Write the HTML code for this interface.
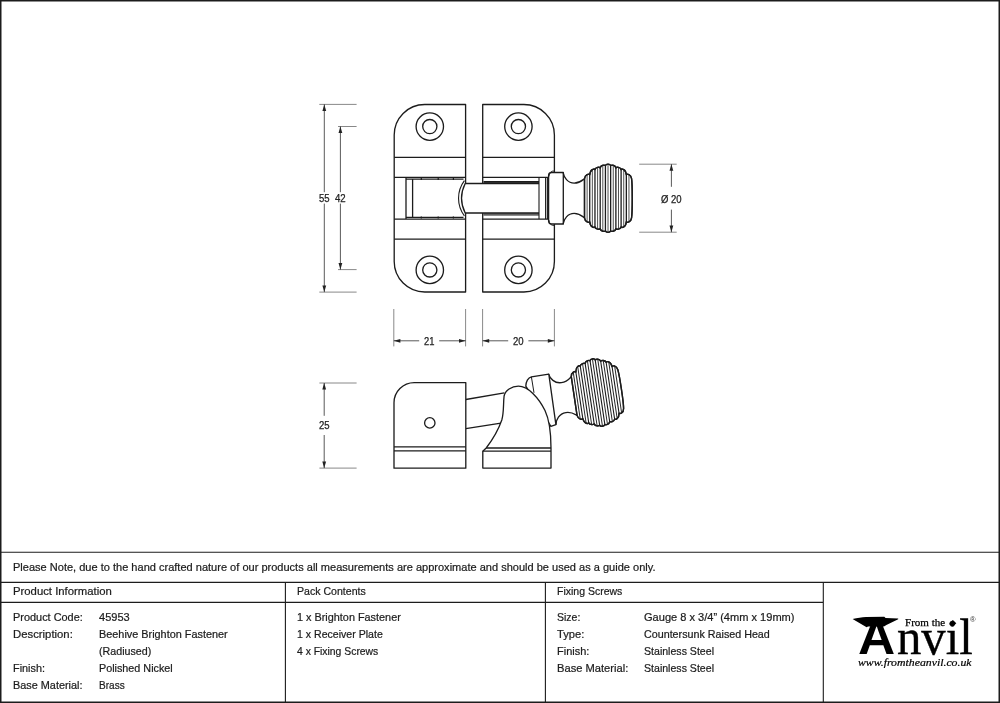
<!DOCTYPE html>
<html lang="en">
<head>
<meta charset="utf-8">
<title>Beehive Brighton Fastener (Radiused) - Polished Nickel - 45953</title>
<style>
html,body{margin:0;padding:0;background:#fff;}
body{width:1000px;height:703px;position:relative;overflow:hidden;font-family:"Liberation Sans",sans-serif;color:#1c1c1c;}
#frame{position:absolute;left:0;top:0;width:1000px;height:703px;}
.t,.d{position:absolute;white-space:nowrap;transform-origin:0 50%;color:#1c1c1c;}
.t{-webkit-text-stroke:0.22px #1c1c1c;}
.d{color:#222;-webkit-text-stroke:0.25px #222;}
#txt{position:absolute;left:0;top:0;width:1000px;height:703px;will-change:transform;}
</style>
</head>
<body>
<svg id="frame" width="1000" height="703" viewBox="0 0 1000 703">
<!-- sheet border and title block -->
<g fill="none" stroke="#1c1c1c" stroke-width="1.5">
<rect x="0.75" y="0.75" width="998.5" height="701.5"/>
</g>
<g fill="none" stroke="#1c1c1c" stroke-width="1.1">
<path d="M1 552.2H999M1 582.4H999M1 602.4H823.3M285.4 582.4V702M545.4 582.4V702M823.3 582.4V702"/>
</g>
<defs><g id="knob" stroke="#1c1c1c" stroke-width="1.32" stroke-linecap="round" stroke-linejoin="round"><path d="M584.50 178.70C585.20 173.85 589.03 173.85 589.73 174.65C590.43 168.75 594.26 168.75 594.96 169.55C595.66 166.95 599.49 166.95 600.19 167.75C600.89 164.85 604.72 164.85 605.42 165.65C606.12 163.65 609.95 163.65 610.65 165.65C611.35 164.85 615.18 164.85 615.88 167.75C616.58 166.95 620.41 166.95 621.11 169.55C621.81 168.75 625.64 168.75 626.34 174.65C627.04 173.85 630.87 173.85 631.57 178.70C632.47 184.70 632.47 211.80 631.57 217.80C630.87 222.65 627.04 222.65 626.34 221.85C625.64 227.75 621.81 227.75 621.11 226.95C620.41 229.55 616.58 229.55 615.88 228.75C615.18 231.65 611.35 231.65 610.65 230.85C609.95 232.85 606.12 232.85 605.42 230.85C604.72 231.65 600.89 231.65 600.19 228.75C599.49 229.55 595.66 229.55 594.96 226.95C594.26 227.75 590.43 227.75 589.73 221.85C589.03 222.65 585.20 222.65 584.50 217.80Z" fill="#fff"/><path d="M587.12 174.70V221.80M592.35 169.60V226.90M597.58 167.80V228.70M602.81 165.70V230.80M608.03 164.50V232.00M613.26 165.70V230.80M618.50 167.80V228.70M623.73 169.60V226.90M628.96 174.70V221.80" stroke="#4a4a4a" stroke-width="0.95"/><path d="M589.73 174.65V221.85M594.96 169.55V226.95M600.19 167.75V228.75M605.42 165.65V230.85M610.65 165.65V230.85M615.88 167.75V228.75M621.11 169.55V226.95M626.34 174.65V221.85" stroke-width="1.3"/><path d="M584.50 178.70C585.20 173.85 589.03 173.85 589.73 174.65C590.43 168.75 594.26 168.75 594.96 169.55C595.66 166.95 599.49 166.95 600.19 167.75C600.89 164.85 604.72 164.85 605.42 165.65C606.12 163.65 609.95 163.65 610.65 165.65C611.35 164.85 615.18 164.85 615.88 167.75C616.58 166.95 620.41 166.95 621.11 169.55C621.81 168.75 625.64 168.75 626.34 174.65C627.04 173.85 630.87 173.85 631.57 178.70C632.47 184.70 632.47 211.80 631.57 217.80C630.87 222.65 627.04 222.65 626.34 221.85C625.64 227.75 621.81 227.75 621.11 226.95C620.41 229.55 616.58 229.55 615.88 228.75C615.18 231.65 611.35 231.65 610.65 230.85C609.95 232.85 606.12 232.85 605.42 230.85C604.72 231.65 600.89 231.65 600.19 228.75C599.49 229.55 595.66 229.55 594.96 226.95C594.26 227.75 590.43 227.75 589.73 221.85C589.03 222.65 585.20 222.65 584.50 217.80Z" fill="none" stroke-width="1.4200000000000002"/></g><g id="knob2" stroke="#1c1c1c" stroke-width="1.32" stroke-linecap="round" stroke-linejoin="round"><path d="M584.50 178.70C585.20 173.85 589.03 173.85 589.73 174.65C590.43 168.75 594.26 168.75 594.96 169.55C595.66 166.95 599.49 166.95 600.19 167.75C600.89 164.85 604.72 164.85 605.42 165.65C606.12 163.65 609.95 163.65 610.65 165.65C611.35 164.85 615.18 164.85 615.88 167.75C616.58 166.95 620.41 166.95 621.11 169.55C621.81 168.75 625.64 168.75 626.34 174.65C627.04 173.85 630.87 173.85 631.57 178.70C632.47 184.70 632.47 211.80 631.57 217.80C630.87 222.65 627.04 222.65 626.34 221.85C625.64 227.75 621.81 227.75 621.11 226.95C620.41 229.55 616.58 229.55 615.88 228.75C615.18 231.65 611.35 231.65 610.65 230.85C609.95 232.85 606.12 232.85 605.42 230.85C604.72 231.65 600.89 231.65 600.19 228.75C599.49 229.55 595.66 229.55 594.96 226.95C594.26 227.75 590.43 227.75 589.73 221.85C589.03 222.65 585.20 222.65 584.50 217.80Z" fill="#fff"/><path d="M587.12 174.70V221.80M592.35 169.60V226.90M597.58 167.80V228.70M602.81 165.70V230.80M608.03 164.50V232.00M613.26 165.70V230.80M618.50 167.80V228.70M623.73 169.60V226.90M628.96 174.70V221.80" stroke="#2a2a2a" stroke-width="1.0"/><path d="M589.73 174.65V221.85M594.96 169.55V226.95M600.19 167.75V228.75M605.42 165.65V230.85M610.65 165.65V230.85M615.88 167.75V228.75M621.11 169.55V226.95M626.34 174.65V221.85" stroke-width="1.1"/><path d="M584.50 178.70C585.20 173.85 589.03 173.85 589.73 174.65C590.43 168.75 594.26 168.75 594.96 169.55C595.66 166.95 599.49 166.95 600.19 167.75C600.89 164.85 604.72 164.85 605.42 165.65C606.12 163.65 609.95 163.65 610.65 165.65C611.35 164.85 615.18 164.85 615.88 167.75C616.58 166.95 620.41 166.95 621.11 169.55C621.81 168.75 625.64 168.75 626.34 174.65C627.04 173.85 630.87 173.85 631.57 178.70C632.47 184.70 632.47 211.80 631.57 217.80C630.87 222.65 627.04 222.65 626.34 221.85C625.64 227.75 621.81 227.75 621.11 226.95C620.41 229.55 616.58 229.55 615.88 228.75C615.18 231.65 611.35 231.65 610.65 230.85C609.95 232.85 606.12 232.85 605.42 230.85C604.72 231.65 600.89 231.65 600.19 228.75C599.49 229.55 595.66 229.55 594.96 226.95C594.26 227.75 590.43 227.75 589.73 221.85C589.03 222.65 585.20 222.65 584.50 217.80Z" fill="none" stroke-width="1.4200000000000002"/></g></defs>
<g id="topview" fill="none" stroke="#1c1c1c" stroke-width="1.32" stroke-linejoin="round">
<path d="M465.6 104.5H424.7A30.5 30.5 0 0 0 394.2 135.0V261.5A30.5 30.5 0 0 0 424.7 292.0H465.6Z" fill="#fff"/>
<path d="M482.7 104.5H523.9A30.5 30.5 0 0 1 554.4 135.0V261.5A30.5 30.5 0 0 1 523.9 292.0H482.7Z" fill="#fff"/>
<path d="M394.2 157.4H465.6M394.2 239.10H465.6"/>
<path d="M482.7 157.4H554.4M482.7 239.10H554.4"/>
<path d="M394.2 177.4H465.6M394.2 219.10H465.6"/>
<path d="M482.7 177.4H548.6M482.7 219.10H548.6"/>
<path d="M406 179.1H463.5M406 217.40H463.5M406 177.4V219.10M412.6 179.1V217.40" stroke-width="1.3"/>
<path d="M421.3 178.0V180.0M421.3 218.50V216.50M438.2 178.0V180.0M438.2 218.50V216.50M453.4 178.0V180.0M453.4 218.50V216.50" stroke-width="1.2"/>
<path d="M464.4 180.6A29.5 29.5 0 0 0 464.4 215.90" fill="none" stroke-width="1.1"/>
<path d="M539 183.5H465.2A33 33 0 0 0 465.2 213.00H539" fill="#fff"/>
<path d="M483.5 181.5H539M483.5 215.00H539M483.5 182.6H539M483.5 213.90H539" stroke-width="1.0"/>
<path d="M539 177.4V219.10M545.6 177.4V219.10M547.4 177.4V219.10" stroke-width="1.1"/>
<path d="M551.6 172.5H563.3V224.00H551.6Q548.6 224.00 548.6 221.00V175.5Q548.6 172.5 551.6 172.5Z" fill="#fff"/>
<path d="M548.9 176.5Q549.6 170.6 554.4 171.0M548.9 220.00Q549.6 225.90 554.4 225.50" fill="none" stroke-width="0.9"/>
<circle cx="429.8" cy="126.60" r="13.7" fill="none"/><circle cx="429.8" cy="126.60" r="7.1" fill="none"/>
<circle cx="429.8" cy="269.90" r="13.7" fill="none"/><circle cx="429.8" cy="269.90" r="7.1" fill="none"/>
<circle cx="518.4" cy="126.60" r="13.7" fill="none"/><circle cx="518.4" cy="126.60" r="7.1" fill="none"/>
<circle cx="518.4" cy="269.90" r="13.7" fill="none"/><circle cx="518.4" cy="269.90" r="7.1" fill="none"/>
<use href="#knob"/>
<path d="M563.3 173.00C564.0 177.20 567.50 183.10 574.20 183.10C579.50 183.10 582.00 180.60 584.50 178.70M563.3 223.50C564.0 219.30 567.50 213.40 574.20 213.40C579.50 213.40 582.00 215.90 584.50 217.80" fill="none" stroke-linecap="round"/>
</g>
<g id="sideview" fill="none" stroke="#1c1c1c" stroke-width="1.32" stroke-linejoin="round">
<path d="M465.8 399.5L504.4 392.9M465.8 428.6L501.0 423.2" fill="none"/>
<g transform="translate(-11.00 201.05) rotate(-8.5 563.3 198.25)"><use href="#knob2" x="0.9"/><path d="M563.3 173.00C564.0 177.20 567.86 183.10 574.74 183.10C580.40 183.10 582.90 180.60 585.40 178.70M563.3 223.50C564.0 219.30 567.86 213.40 574.74 213.40C580.40 213.40 582.90 215.90 585.40 217.80" fill="none" stroke-linecap="round"/></g>
<path d="M525.8 386.2C525.9 381.8 528.0 377.4 531.4 376.8L548.8 374.1L555.9 424.6L550.9 426.4Z" fill="#fff"/>
<path d="M531.4 376.9L534.0 392.8" fill="none" stroke-width="1.0"/>
<path d="M465.8 382.6H414.2A20.2 20.2 0 0 0 394 402.8V468.2H465.8Z" fill="#fff"/>
<path d="M394 446.8H465.8M394 450.8H465.8"/>
<circle cx="429.8" cy="422.9" r="5.2" fill="none"/>
<path d="M482.8 468.1V451.2L486.2 448.0C493.5 438.5 499.0 428.0 501.8 420.0C504.0 412.5 503.2 403.5 504.1 396.0C505.2 390.5 511.5 386.2 518.4 386.2C528.0 386.2 538.5 397.5 545.0 410.5C549.5 420.0 551.0 433.0 551.0 448.0V468.1Z" fill="#fff"/>
<path d="M486.2 448.0H551.0M482.8 451.2H551.0"/>
</g>
<g id="dims">
<path d="M319.3 104.4H356.6M319.3 292.1H356.6M338.0 126.5H356.6M338.0 269.6H356.6M393.8 309V346.4M465.6 309V346.4M482.6 309V346.4M554.4 309V346.4M639.2 164.2H676.7M639.2 232.2H676.7M319.4 383.0H356.6M319.4 468.1H356.6" stroke="#6a6a6a" stroke-width="0.8" fill="none"/>
<path d="M324.3 104.4V192.2M324.3 203.6V292.1M340.4 126.5V192.2M340.4 203.6V269.6M393.8 340.8H419.2M439.2 340.8H465.6M482.6 340.8H508.2M528.4 340.8H554.4M671.4 164.2V186.8M671.4 209.6V232.2M324.2 383.0V415.8M324.2 435.0V468.1" stroke="#222" stroke-width="0.75" fill="none"/>
<path d="M324.30 104.40L326.20 111.00L322.40 111.00Z" fill="#222" stroke="none"/>
<path d="M324.30 292.10L322.40 285.50L326.20 285.50Z" fill="#222" stroke="none"/>
<path d="M340.40 126.50L342.30 133.10L338.50 133.10Z" fill="#222" stroke="none"/>
<path d="M340.40 269.60L338.50 263.00L342.30 263.00Z" fill="#222" stroke="none"/>
<path d="M393.80 340.80L400.40 338.90L400.40 342.70Z" fill="#222" stroke="none"/>
<path d="M465.60 340.80L459.00 342.70L459.00 338.90Z" fill="#222" stroke="none"/>
<path d="M482.60 340.80L489.20 338.90L489.20 342.70Z" fill="#222" stroke="none"/>
<path d="M554.40 340.80L547.80 342.70L547.80 338.90Z" fill="#222" stroke="none"/>
<path d="M671.40 164.20L673.30 170.80L669.50 170.80Z" fill="#222" stroke="none"/>
<path d="M671.40 232.20L669.50 225.60L673.30 225.60Z" fill="#222" stroke="none"/>
<path d="M324.20 383.00L326.10 389.60L322.30 389.60Z" fill="#222" stroke="none"/>
<path d="M324.20 468.10L322.30 461.50L326.10 461.50Z" fill="#222" stroke="none"/>
</g>
</svg>
<div id="txt">
<div id="t0" class="t" style="left:13.00px;top:561.00px;font-size:11.2px;line-height:13.44px;transform:translateY(0.0px) scaleX(0.9861)">Please Note, due to the hand crafted nature of our products all measurements are approximate and should be used as a guide only.</div>
<div id="t1" class="t" style="left:13.00px;top:584.70px;font-size:11.2px;line-height:13.44px;transform:translateY(0.0px) scaleX(1.0119)">Product Information</div>
<div id="t2" class="t" style="left:296.80px;top:584.70px;font-size:11.2px;line-height:13.44px;transform:translateY(0.0px) scaleX(0.9455)">Pack Contents</div>
<div id="t3" class="t" style="left:557.00px;top:584.70px;font-size:11.2px;line-height:13.44px;transform:translateY(0.0px) scaleX(0.9377)">Fixing Screws</div>
<div id="t4" class="t" style="left:13.00px;top:610.60px;font-size:11.2px;line-height:13.44px;transform:translateY(0.0px) scaleX(0.9758)">Product Code:</div>
<div id="t5" class="t" style="left:98.90px;top:610.60px;font-size:11.2px;line-height:13.44px;transform:translateY(0.0px) scaleX(0.9863)">45953</div>
<div id="t6" class="t" style="left:13.00px;top:627.50px;font-size:11.2px;line-height:13.44px;transform:translateY(0.0px) scaleX(1.0122)">Description:</div>
<div id="t7" class="t" style="left:98.90px;top:627.50px;font-size:11.2px;line-height:13.44px;transform:translateY(0.0px) scaleX(0.9715)">Beehive Brighton Fastener</div>
<div id="t8" class="t" style="left:98.90px;top:645.30px;font-size:11.2px;line-height:13.44px;transform:translateY(0.0px) scaleX(0.9537)">(Radiused)</div>
<div id="t9" class="t" style="left:13.00px;top:662.20px;font-size:11.2px;line-height:13.44px;transform:translateY(0.0px) scaleX(0.9711)">Finish:</div>
<div id="t10" class="t" style="left:98.90px;top:662.20px;font-size:11.2px;line-height:13.44px;transform:translateY(0.0px) scaleX(0.9636)">Polished Nickel</div>
<div id="t11" class="t" style="left:13.00px;top:679.20px;font-size:11.2px;line-height:13.44px;transform:translateY(0.0px) scaleX(0.9718)">Base Material:</div>
<div id="t12" class="t" style="left:98.90px;top:679.20px;font-size:11.2px;line-height:13.44px;transform:translateY(0.0px) scaleX(0.8983)">Brass</div>
<div id="t13" class="t" style="left:296.80px;top:610.60px;font-size:11.2px;line-height:13.44px;transform:translateY(0.0px) scaleX(0.9704)">1 x Brighton Fastener</div>
<div id="t14" class="t" style="left:296.80px;top:627.50px;font-size:11.2px;line-height:13.44px;transform:translateY(0.0px) scaleX(0.9450)">1 x Receiver Plate</div>
<div id="t15" class="t" style="left:296.80px;top:645.30px;font-size:11.2px;line-height:13.44px;transform:translateY(0.0px) scaleX(0.9273)">4 x Fixing Screws</div>
<div id="t16" class="t" style="left:557.00px;top:610.60px;font-size:11.2px;line-height:13.44px;transform:translateY(0.0px) scaleX(0.9367)">Size:</div>
<div id="t17" class="t" style="left:644.20px;top:610.60px;font-size:11.2px;line-height:13.44px;transform:translateY(0.0px) scaleX(0.9880)">Gauge 8 x 3/4” (4mm x 19mm)</div>
<div id="t18" class="t" style="left:557.00px;top:627.50px;font-size:11.2px;line-height:13.44px;transform:translateY(0.0px) scaleX(0.9973)">Type:</div>
<div id="t19" class="t" style="left:644.20px;top:627.50px;font-size:11.2px;line-height:13.44px;transform:translateY(0.0px) scaleX(0.9587)">Countersunk Raised Head</div>
<div id="t20" class="t" style="left:557.00px;top:645.30px;font-size:11.2px;line-height:13.44px;transform:translateY(0.0px) scaleX(0.9802)">Finish:</div>
<div id="t21" class="t" style="left:644.20px;top:645.30px;font-size:11.2px;line-height:13.44px;transform:translateY(0.0px) scaleX(0.9457)">Stainless Steel</div>
<div id="t22" class="t" style="left:557.00px;top:662.20px;font-size:11.2px;line-height:13.44px;transform:translateY(0.0px) scaleX(0.9970)">Base Material:</div>
<div id="t23" class="t" style="left:644.20px;top:662.20px;font-size:11.2px;line-height:13.44px;transform:translateY(0.0px) scaleX(0.9457)">Stainless Steel</div>
<div id="d0" class="d" style="left:318.50px;top:192.73px;font-size:10.0px;line-height:12.0px;transform:translateY(0px) scaleX(0.9528)">55</div>
<div id="d1" class="d" style="left:335.10px;top:192.73px;font-size:10.0px;line-height:12.0px;transform:translateY(0px) scaleX(0.9618)">42</div>
<div id="d2" class="d" style="left:423.60px;top:336.14px;font-size:10.0px;line-height:12.0px;transform:translateY(0px) scaleX(0.9348)">21</div>
<div id="d3" class="d" style="left:513.00px;top:336.14px;font-size:10.0px;line-height:12.0px;transform:translateY(0px) scaleX(0.9528)">20</div>
<div id="d4" class="d" style="left:661.30px;top:193.94px;font-size:10.0px;line-height:12.0px;transform:translateY(0px) scaleX(0.9499)">Ø 20</div>
<div id="d5" class="d" style="left:319.10px;top:419.74px;font-size:10.0px;line-height:12.0px;transform:translateY(0px) scaleX(0.9528)">25</div>
<style>.lg{position:absolute;white-space:nowrap;transform-origin:0 50%;color:#000;}</style>
<div id="lgA" class="lg" style="left:857.50px;top:608.30px;font-size:48.6px;line-height:58.32px;font-family:'Liberation Sans',sans-serif;transform:scaleX(1.0600);font-weight:bold;">A</div>
<div id="lgnvil" class="lg" style="left:897.00px;top:607.02px;font-size:50.0px;line-height:60.0px;font-family:'Liberation Serif',serif;transform:scaleX(0.9743);-webkit-text-stroke:0.35px #000;">nvil</div>
<div id="lgfrom" class="lg" style="left:905.00px;top:616.76px;font-size:10.6px;line-height:12.72px;font-family:'Liberation Serif',serif;transform:scaleX(1.0425);-webkit-text-stroke:0.25px #000;">From the</div>
<div id="lgreg" class="lg" style="left:970.20px;top:615.41px;font-size:7.6px;line-height:9.12px;font-family:'Liberation Sans',sans-serif;transform:scaleX(0.9983);color:#333;">®</div>
<div id="lgurl" class="lg" style="left:858.20px;top:656.86px;font-size:10.6px;line-height:12.72px;font-family:'Liberation Serif',serif;transform:scaleX(1.1125);font-style:italic;-webkit-text-stroke:0.2px #000;">www.fromtheanvil.co.uk</div>
<svg style="position:absolute;left:840px;top:606px" width="150" height="30" viewBox="840 606 150 30"><path d="M852.6 619.1C857.5 617.9 861.8 617.2 866.0 617.0L884.3 616.8L885.6 618.1L898.2 618.4V619.2L886.4 625.0L884.0 626.6H868.0L866.6 627.2Z" fill="#000"/><path d="M952.9 619.9L956.3 623.3L952.9 626.7L949.5 623.3Z" fill="#000"/></svg>
</div>
</body>
</html>
